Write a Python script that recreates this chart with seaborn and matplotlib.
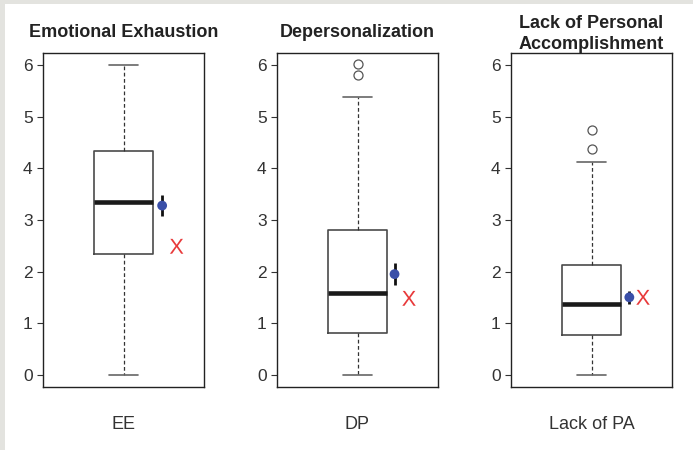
import matplotlib
matplotlib.use("Agg")
import matplotlib.pyplot as plt
import seaborn as sns
from matplotlib.patches import Rectangle

# ---- data ----
titles = ["Emotional Exhaustion", "Depersonalization", "Lack of Personal\nAccomplishment"]
labels = ["EE", "DP", "Lack of PA"]
whislo = [0.0, 0.0, 0.0]
q1 = [2.34, 0.81, 0.76]
med = [3.35, 1.59, 1.38]
q3 = [4.34, 2.80, 2.12]
whishi = [6.0, 5.39, 4.12]
fliers = [[], [5.82, 6.02], [4.37, 4.75]]
means = [3.28, 1.95, 1.50]
ci_lo = [3.08, 1.74, 1.37]
ci_hi = [3.48, 2.16, 1.63]
ref = [2.49, 1.48, 1.50]
yticks = [0, 1, 2, 3, 4, 5, 6]

# ---- layout constants ----
mean_x = [0.48, 0.46, 0.47]
ref_x = [0.66, 0.64, 0.64]
lefts = [43, 277, 511]

sns.set_style("white")
plt.rcParams["font.family"] = ["Liberation Sans", "DejaVu Sans"]
plt.rcParams["mathtext.fontset"] = "custom"
plt.rcParams["mathtext.sf"] = "Liberation Sans"

W, H = 693, 450
fig = plt.figure(figsize=(W / 100, H / 100), dpi=100)
fig.patch.set_facecolor("white")
fig.patches.append(Rectangle((0, 0), 5 / W, 1, transform=fig.transFigure,
                             facecolor="#e3e3df", edgecolor="none", zorder=-5))
fig.patches.append(Rectangle((0, 1 - 4 / H), 1, 4 / H, transform=fig.transFigure,
                             facecolor="#e3e3df", edgecolor="none", zorder=-5))

for i in range(3):
    ax = fig.add_axes([lefts[i] / W, (H - 387) / H, 161 / W, 334 / H])
    stats = [dict(whislo=whislo[i], q1=q1[i], med=med[i], q3=q3[i],
                  whishi=whishi[i], fliers=fliers[i], label=labels[i])]
    ax.bxp(stats, positions=[0], widths=0.74, showfliers=True, patch_artist=False,
           boxprops=dict(color="#4a4a4a", linewidth=1.2),
           medianprops=dict(color="#1a1a1a", linewidth=3.3, solid_capstyle="butt"),
           whiskerprops=dict(color="#333333", linewidth=0.9, linestyle=(0, (3, 2))),
           capprops=dict(color="#666666", linewidth=1.2),
           flierprops=dict(marker="o", markersize=6.5, markerfacecolor="white",
                           markeredgecolor="#555555", markeredgewidth=0.9, linestyle="none"),
           capwidths=0.37)
    ax.errorbar([mean_x[i]], [means[i]],
                yerr=[[means[i] - ci_lo[i]], [ci_hi[i] - means[i]]],
                fmt="none", ecolor="#111111", elinewidth=2.0, capsize=0, zorder=3)
    sns.scatterplot(x=[mean_x[i]], y=[means[i]], ax=ax, color="#3a4fa8", s=50,
                    edgecolor="none", zorder=4)
    sns.scatterplot(x=[ref_x[i]], y=[ref[i]], ax=ax, color="#e8393a",
                    marker=r"$\mathsf{X}$", s=115, edgecolor="none", zorder=4)

    ax.set_xlim(-1, 1)
    ax.set_ylim(-0.24, 6.24)
    ax.set_yticks(yticks)
    ax.set_yticklabels([str(t) for t in yticks])
    ax.set_xticks([])
    ax.tick_params(axis="y", left=True, length=4.5, width=0.8, color="#333333",
                   labelsize=12.5, labelcolor="#333333", pad=3)
    for sp in ax.spines.values():
        sp.set_visible(True)
        sp.set_color("#222222")
        sp.set_linewidth(1.0)
    ax.set_xlabel(labels[i], fontsize=13, color="#333333", labelpad=21)
    if "\n" in titles[i]:
        ax.set_title(titles[i], fontsize=13, fontweight="bold", color="#222222",
                     pad=3, linespacing=1.3)
    else:
        ax.set_title(titles[i], fontsize=13, fontweight="bold", color="#222222", pad=11.5)

fig.savefig("out.png", dpi=100)
